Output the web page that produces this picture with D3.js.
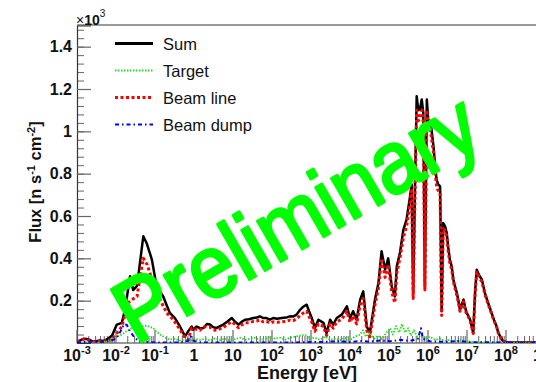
<!DOCTYPE html>
<html>
<head>
<meta charset="utf-8">
<script src="https://cdn.jsdelivr.net/npm/d3@7"></script>
<style>
  html, body { margin: 0; padding: 0; background: #fff; }
  svg { display: block; font-family: "Liberation Sans", Arial, sans-serif; }
</style>
</head>
<body>
<div id="chart"></div>
<script>
// series: [log10(E/eV), flux in units of 10^3 n s^-1 cm^-2]
const sumPts = [
  [-3.00,0.005],[-2.92,0.012],[-2.82,0.02],[-2.72,0.018],[-2.62,0.01],[-2.51,0.008],[-2.41,0.012],[-2.31,0.01],
  [-2.21,0.02],[-2.10,0.035],[-1.98,0.087],[-1.85,0.095],[-1.77,0.157],[-1.64,0.315],[-1.56,0.25],[-1.46,0.27],
  [-1.30,0.504],[-1.21,0.47],[-1.08,0.394],[-0.96,0.268],[-0.79,0.22],[-0.62,0.142],[-0.49,0.118],[-0.36,0.078],
  [-0.23,0.031],[-0.15,0.055],[-0.06,0.078],[-0.03,0.063],[0.07,0.078],[0.15,0.07],[0.24,0.071],[0.33,0.09],
  [0.41,0.087],[0.49,0.075],[0.58,0.071],[0.67,0.08],[0.75,0.087],[0.85,0.1],[0.97,0.118],[1.05,0.1],
  [1.14,0.087],[1.22,0.1],[1.31,0.11],[1.41,0.112],[1.52,0.118],[1.61,0.12],[1.69,0.126],[1.77,0.118],
  [1.86,0.118],[1.95,0.11],[2.03,0.118],[2.13,0.115],[2.25,0.118],[2.36,0.12],[2.46,0.126],[2.54,0.125],
  [2.63,0.134],[2.72,0.157],[2.79,0.17],[2.89,0.181],[2.95,0.15],[3.02,0.118],[3.10,0.071],[3.19,0.11],
  [3.32,0.095],[3.40,0.047],[3.49,0.11],[3.57,0.087],[3.66,0.118],[3.79,0.134],[3.92,0.173],[4.00,0.118],
  [4.08,0.15],[4.17,0.11],[4.26,0.205],[4.34,0.244],[4.43,0.078],[4.51,0.047],[4.64,0.205],[4.73,0.284],
  [4.81,0.433],[4.90,0.346],[4.98,0.40],[5.07,0.268],[5.15,0.22],[5.20,0.362],[5.28,0.425],[5.37,0.536],
  [5.45,0.583],[5.54,0.693],[5.58,0.75],[5.62,0.236],[5.67,0.772],[5.71,1.166],[5.75,1.10],[5.79,1.103],
  [5.84,1.15],[5.88,1.087],[5.92,0.27],[5.97,1.15],[6.01,1.04],[6.05,1.05],[6.09,1.009],[6.14,0.93],
  [6.18,0.843],[6.22,0.772],[6.26,0.75],[6.31,0.74],[6.35,0.15],[6.39,0.567],[6.44,0.55],[6.48,0.52],
  [6.52,0.45],[6.56,0.394],[6.61,0.36],[6.65,0.30],[6.69,0.27],[6.74,0.236],[6.78,0.2],[6.82,0.157],
  [6.86,0.18],[6.91,0.205],[6.95,0.17],[6.99,0.142],[7.03,0.13],[7.08,0.11],[7.12,0.08],[7.16,0.047],
  [7.21,0.25],[7.25,0.346],[7.31,0.32],[7.38,0.30],[7.46,0.236],[7.54,0.19],[7.63,0.142],[7.69,0.11],
  [7.76,0.078],[7.80,0.05],[7.85,0.031],[7.92,0.01],[8.00,0.005],[8.10,0.003],[8.36,0.002],[8.77,0.002],[9.38,0.001]
];
const beamLinePts = [
  [-3.00,0.003],[-2.92,0.012],[-2.82,0.018],[-2.72,0.015],[-2.62,0.008],[-2.51,0.006],[-2.41,0.01],[-2.31,0.008],
  [-2.21,0.012],[-2.10,0.015],[-1.98,0.045],[-1.85,0.078],[-1.69,0.19],[-1.59,0.205],[-1.46,0.22],[-1.38,0.315],
  [-1.30,0.40],[-1.20,0.37],[-1.08,0.30],[-1.00,0.25],[-0.87,0.205],[-0.70,0.142],[-0.53,0.11],[-0.36,0.063],
  [-0.23,0.024],[-0.15,0.016],[-0.06,0.071],[0.07,0.065],[0.15,0.06],[0.24,0.078],[0.33,0.075],[0.41,0.075],
  [0.49,0.062],[0.58,0.06],[0.67,0.068],[0.75,0.072],[0.85,0.088],[0.97,0.10],[1.05,0.088],[1.14,0.072],
  [1.22,0.085],[1.31,0.095],[1.41,0.096],[1.52,0.102],[1.61,0.104],[1.69,0.11],[1.77,0.10],[1.86,0.102],
  [1.95,0.094],[2.03,0.10],[2.13,0.098],[2.25,0.1],[2.36,0.102],[2.46,0.108],[2.54,0.105],[2.63,0.114],
  [2.72,0.13],[2.79,0.14],[2.89,0.15],[2.95,0.125],[3.02,0.098],[3.10,0.055],[3.19,0.09],[3.32,0.078],
  [3.40,0.035],[3.49,0.09],[3.57,0.07],[3.66,0.1],[3.79,0.112],[3.92,0.15],[4.00,0.098],[4.08,0.128],
  [4.17,0.09],[4.26,0.18],[4.34,0.21],[4.43,0.06],[4.51,0.03],[4.64,0.18],[4.73,0.26],[4.81,0.40],
  [4.90,0.31],[4.98,0.37],[5.07,0.24],[5.15,0.19],[5.20,0.33],[5.28,0.40],[5.37,0.50],[5.45,0.55],
  [5.54,0.66],[5.58,0.72],[5.62,0.21],[5.67,0.74],[5.71,1.10],[5.75,1.05],[5.79,1.06],[5.84,1.10],
  [5.88,1.04],[5.92,0.25],[5.97,1.10],[6.01,1.00],[6.05,1.01],[6.09,0.97],[6.14,0.90],[6.18,0.81],
  [6.22,0.74],[6.26,0.72],[6.31,0.71],[6.35,0.13],[6.39,0.54],[6.44,0.53],[6.48,0.50],[6.52,0.43],
  [6.56,0.38],[6.61,0.345],[6.65,0.29],[6.69,0.26],[6.74,0.225],[6.78,0.19],[6.82,0.15],[6.86,0.17],
  [6.91,0.195],[6.95,0.16],[6.99,0.135],[7.03,0.125],[7.08,0.105],[7.12,0.075],[7.16,0.045],[7.21,0.24],
  [7.25,0.335],[7.31,0.31],[7.38,0.29],[7.46,0.23],[7.54,0.185],[7.63,0.138],[7.69,0.105],[7.76,0.075],
  [7.80,0.048],[7.85,0.03],[7.92,0.01],[8.00,0.004],[8.10,0.002],[8.36,0.001],[8.77,0.001],[9.38,0]
];
const targetPts = [
  [-3.00,0.002],[-2.41,0.003],[-2.15,0.01],[-1.98,0.03],[-1.85,0.04],[-1.74,0.055],[-1.60,0.071],[-1.49,0.072],
  [-1.38,0.078],[-1.21,0.082],[-1.04,0.07],[-0.97,0.055],[-0.87,0.04],[-0.74,0.025],[-0.62,0.016],[-0.49,0.02],
  [-0.36,0.012],[-0.23,0.018],[-0.10,0.01],[0.03,0.02],[0.15,0.015],[0.28,0.02],[0.41,0.012],[0.54,0.022],
  [0.67,0.015],[0.79,0.02],[0.92,0.012],[1.05,0.018],[1.18,0.025],[1.31,0.015],[1.44,0.02],[1.56,0.025],
  [1.69,0.015],[1.82,0.02],[1.95,0.03],[2.08,0.02],[2.21,0.025],[2.33,0.015],[2.46,0.025],[2.59,0.03],
  [2.72,0.035],[2.85,0.04],[2.97,0.02],[3.10,0.025],[3.23,0.015],[3.36,0.03],[3.49,0.015],[3.62,0.02],
  [3.74,0.012],[3.87,0.025],[4.00,0.015],[4.13,0.03],[4.26,0.04],[4.33,0.06],[4.41,0.03],[4.51,0.05],
  [4.62,0.02],[4.72,0.035],[4.82,0.02],[4.92,0.045],[5.03,0.07],[5.10,0.04],[5.18,0.08],[5.26,0.05],
  [5.33,0.09],[5.41,0.05],[5.49,0.07],[5.56,0.035],[5.64,0.06],[5.72,0.03],[5.79,0.04],[5.92,0.02],
  [6.05,0.03],[6.18,0.015],[6.31,0.02],[6.44,0.01],[6.56,0.015],[6.69,0.008],[6.82,0.012],[7.08,0.006],
  [7.33,0.005],[7.59,0.003],[7.85,0.002],[8.77,0.001],[9.38,0]
];
const beamDumpPts = [
  [-3.00,0.003],[-2.67,0.006],[-2.41,0.004],[-2.15,0.01],[-2.00,0.02],[-1.90,0.05],[-1.79,0.09],[-1.72,0.085],
  [-1.64,0.055],[-1.56,0.035],[-1.49,0.02],[-1.38,0.008],[-1.13,0.004],[-0.87,0.002],[-0.36,0.003],[-0.15,0.01],
  [-0.08,0.03],[0.00,0.01],[0.15,0.003],[1.44,0.002],[2.72,0.003],[3.23,0.005],[3.74,0.008],[4.00,0.004],
  [4.26,0.01],[4.51,0.006],[4.77,0.012],[5.03,0.008],[5.28,0.015],[5.54,0.01],[5.74,0.02],[5.82,0.07],
  [5.87,0.02],[6.05,0.008],[6.44,0.005],[6.82,0.01],[7.08,0.004],[7.59,0.003],[8.77,0.001],[9.38,0]
];
const yTickValues = [0.2, 0.4, 0.6, 0.8, 1, 1.2, 1.4];
const xDecades = [-3, -2, -1, 0, 1, 2, 3, 4, 5, 6, 7, 8, 9];

const legendItems = [
  { name: 'Sum', pts: sumPts, color: '#000', width: 2.5, dash: null, lw: 3 },
  { name: 'Target', pts: targetPts, color: '#22dd22', width: 1.8, dash: '1.5,1.5', lw: 2 },
  { name: 'Beam line', pts: beamLinePts, color: '#ff0000', width: 3, dash: '3,2.5', lw: 3 },
  { name: 'Beam dump', pts: beamDumpPts, color: '#0000ff', width: 2, dash: '4,3,1.5,3', lw: 2 }
];

const W = 536, H = 382;
const mLeft = 77, mTop = 25, mBottom = 343;

const svg = d3.select('#chart').append('svg').attr('width', W).attr('height', H);

const x = d3.scaleLog().domain([1e-3, 1e10]).range([mLeft, mLeft + 13 * 39]);
const y = d3.scaleLinear().domain([0, 1.5]).range([mBottom, mTop + 0.5]);

svg.append('defs').append('clipPath').attr('id', 'plotClip')
  .append('rect').attr('x', mLeft).attr('y', mTop).attr('width', W - mLeft).attr('height', mBottom - mTop);

// frame (top line, rest is cut off at the right edge)
svg.append('line').attr('x1', mLeft).attr('x2', W).attr('y1', mTop).attr('y2', mTop)
  .attr('stroke', '#777').attr('stroke-width', 1.5);

// y axis: major + minor ticks pointing inwards
const yMinor = d3.range(0, 1.5001, 0.04);
svg.append('g').attr('transform', `translate(${mLeft},0)`)
  .call(d3.axisLeft(y).tickValues(yMinor).tickSize(-7).tickFormat(''))
  .call(g => g.select('.domain').remove())
  .selectAll('line').attr('stroke', '#666');

const yAx = svg.append('g').attr('transform', `translate(${mLeft},0)`)
  .call(d3.axisLeft(y).tickValues(yTickValues).tickSize(-14).tickPadding(5).tickFormat(d3.format('~g')));
yAx.select('.domain').attr('stroke', '#333').attr('stroke-width', 1.2);
yAx.selectAll('line').attr('stroke', '#666').attr('stroke-width', 1.2);
yAx.selectAll('text').style('font-size', '16px').style('font-weight', 'bold').attr('fill', '#111');

// x axis line + ticks
svg.append('line').attr('x1', mLeft).attr('x2', W).attr('y1', mBottom).attr('y2', mBottom)
  .attr('stroke', '#333').attr('stroke-width', 1.2);

const minorE = [];
xDecades.forEach(d => { for (let k = 2; k <= 9; k++) minorE.push(k * Math.pow(10, d)); });
svg.append('g').selectAll('line.minor').data(minorE.filter(e => x(e) <= W)).join('line')
  .attr('x1', d => x(d)).attr('x2', d => x(d)).attr('y1', mBottom).attr('y2', mBottom - 7)
  .attr('stroke', '#666').attr('stroke-width', 1);
svg.append('g').selectAll('line.major').data(xDecades.filter(d => x(10 ** d) <= W)).join('line')
  .attr('x1', d => x(10 ** d)).attr('x2', d => x(10 ** d)).attr('y1', mBottom).attr('y2', mBottom - 13)
  .attr('stroke', '#666').attr('stroke-width', 1.2);

const xl = svg.append('g').selectAll('text').data(xDecades).join('text')
  .attr('x', d => x(10 ** d)).attr('y', 361)
  .attr('text-anchor', 'middle')
  .style('font-size', '16px').style('font-weight', 'bold').attr('fill', '#111');
xl.each(function(d) {
  const t = d3.select(this);
  if (d === 0) { t.text('1'); return; }
  if (d === 1) { t.text('10'); return; }
  t.append('tspan').text('10');
  t.append('tspan').attr('dy', -7).style('font-size', '11px').text(d);
});

// axis titles
svg.append('text').attr('x', 257).attr('y', 378.5)
  .style('font-size', '18px').style('font-weight', 'bold').attr('fill', '#111').text('Energy [eV]');

const yt = svg.append('text').attr('transform', 'translate(41,182) rotate(-90)')
  .attr('text-anchor', 'middle').style('font-size', '16.5px').style('font-weight', 'bold').attr('fill', '#111');
yt.append('tspan').text('Flux [n s');
yt.append('tspan').attr('dy', -6).style('font-size', '11px').text('-1');
yt.append('tspan').attr('dy', 6).text(' cm');
yt.append('tspan').attr('dy', -6).style('font-size', '11px').text('-2');
yt.append('tspan').attr('dy', 6).text(']');

const mult = svg.append('text').attr('x', 76).attr('y', 25).attr('fill', '#111');
mult.append('tspan').style('font-size', '14px').text('×');
mult.append('tspan').style('font-size', '14px').style('font-weight', 'bold').text('10');
mult.append('tspan').attr('dy', -8).style('font-size', '10px').text('3');

// curves
const line = d3.line().x(d => x(Math.pow(10, d[0]))).y(d => y(d[1]));
const plot = svg.append('g').attr('clip-path', 'url(#plotClip)');
[legendItems[0], legendItems[2], legendItems[1], legendItems[3]].forEach(s => {
  plot.append('path').datum(s.pts)
    .attr('d', line)
    .attr('fill', 'none')
    .attr('stroke', s.color)
    .attr('stroke-width', s.width)
    .attr('stroke-dasharray', s.dash)
    .attr('stroke-linejoin', 'round');
});

// legend
const lg = svg.append('g').selectAll('g').data(legendItems).join('g')
  .attr('transform', (d, i) => `translate(0,${43.5 + i * 27})`);
lg.append('line').attr('x1', 115).attr('x2', 153).attr('y1', 0).attr('y2', 0)
  .attr('stroke', d => d.color).attr('stroke-width', d => d.lw).attr('stroke-dasharray', d => d.dash);
lg.append('text').attr('x', 163).attr('y', 6)
  .style('font-size', '16.5px').attr('fill', '#111').text(d => d.name);

// watermark
svg.append('text')
  .attr('transform', 'translate(311,244) rotate(-30)')
  .attr('text-anchor', 'middle')
  .attr('textLength', 405).attr('lengthAdjust', 'spacingAndGlyphs')
  .style('font-size', '88px')
  .attr('fill', '#00ff00').attr('stroke', '#00ff00').attr('stroke-width', 3)
  .attr('stroke-linejoin', 'round')
  .text('Preliminary');
</script>
</body>
</html>
